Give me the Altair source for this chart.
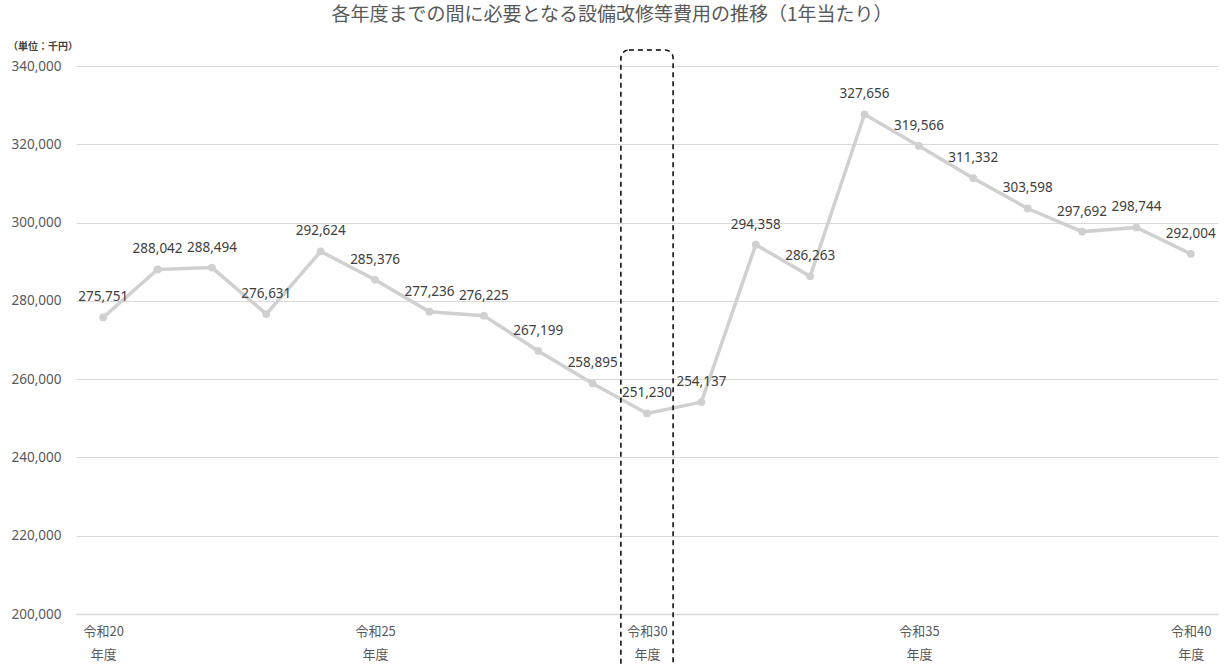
import altair as alt
import pandas as pd

years = list(range(20, 41))
values = [275751, 288042, 288494, 276631, 292624, 285376, 277236, 276225, 267199,
          258895, 251230, 254137, 294358, 286263, 327656, 319566, 311332, 303598,
          297692, 298744, 292004]
y_ticks = [200000, 220000, 240000, 260000, 280000, 300000, 320000, 340000]
x_ticks = [20, 25, 30, 35, 40]
highlight_year = 30
title_text = "各年度までの間に必要となる設備改修等費用の推移（1年当たり）"
unit_text = "（単位：千円）"

df = pd.DataFrame({"year": years, "value": values})
hl = pd.DataFrame({"x": [highlight_year - 0.48], "x2": [highlight_year + 0.48]})
ann = pd.DataFrame({"t": [title_text], "u": [unit_text]})

W, H = 1142, 548
num_font = "Noto Sans"
jp_font = "Noto Sans CJK JP"

xscale = alt.Scale(domain=[19.5, 40.5], nice=False, zero=False)
yscale = alt.Scale(domain=[200000, 340000], nice=False, zero=False)

base = alt.Chart(df)

line = base.mark_line(color="#d0d0d0", strokeWidth=3.5).encode(
    x=alt.X("year:Q", scale=xscale,
            axis=alt.Axis(values=x_ticks, title=None, grid=False, ticks=False,
                          domain=True, domainColor="#d9d9d9", domainWidth=1.5,
                          labelExpr="['令和' + datum.value, '年度']",
                          labelFont=jp_font, labelFontSize=13, labelColor="#595959",
                          labelLineHeight=23, labelPadding=11, labelFlush=False)),
    y=alt.Y("value:Q", scale=yscale,
            axis=alt.Axis(values=y_ticks, format=",d", title=None, grid=True,
                          gridColor="#d9d9d9", gridWidth=1, domain=False, ticks=False,
                          labelFont=num_font, labelFontSize=13.5, labelColor="#595959",
                          labelPadding=15)),
)

pts = base.mark_circle(color="#d0d0d0", size=60, opacity=1).encode(
    x=alt.X("year:Q", scale=xscale), y=alt.Y("value:Q", scale=yscale)
)

labels = base.mark_text(font=num_font, fontSize=13.5, color="#404040", dy=-20,
                        baseline="middle", align="center").encode(
    x=alt.X("year:Q", scale=xscale), y=alt.Y("value:Q", scale=yscale),
    text=alt.Text("value:Q", format=",d"),
)

rect = alt.Chart(hl).mark_rect(fill=None, fillOpacity=0, stroke="#000000",
                               strokeWidth=1.5, strokeDash=[5, 4],
                               cornerRadius=8, clip=False).encode(
    x=alt.X("x:Q", scale=xscale), x2="x2:Q",
    y=alt.value(-16), y2=alt.value(H + 60),
)

title = alt.Chart(ann).mark_text(font=jp_font, fontSize=19, color="#595959",
                                 align="center", baseline="middle").encode(
    x=alt.value(612 - 76), y=alt.value(15 - 66), text="t:N"
)
unit = alt.Chart(ann).mark_text(font=jp_font, fontSize=10, color="#404040",
                                fontWeight="bold", align="left",
                                baseline="middle").encode(
    x=alt.value(8 - 76), y=alt.value(47 - 66), text="u:N"
)

chart = alt.layer(line, pts, labels, rect, title, unit).properties(
    width=W, height=H,
    padding={"left": 76, "top": 66, "right": 6, "bottom": 50},
    autosize="none",
).configure_view(stroke=None).configure_axis(labelOverlap=False)

chart.save("out.html", embed_options={"renderer": "svg", "actions": False})
